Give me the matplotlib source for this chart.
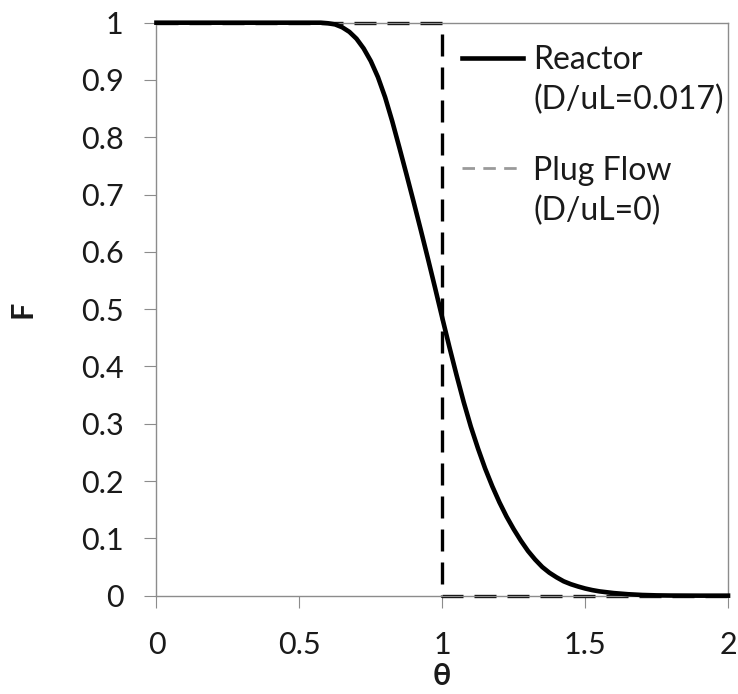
import matplotlib
matplotlib.use("Agg")
import matplotlib.pyplot as plt
from matplotlib.lines import Line2D

plt.rcParams['font.family'] = ['Lato', 'DejaVu Sans']

# reactor curve
theta = [0.0, 0.5, 0.55, 0.575, 0.6, 0.625, 0.65, 0.675, 0.7, 0.725, 0.75, 0.775,
         0.8, 0.825, 0.85, 0.875, 0.9, 0.925, 0.95, 0.975, 1.0, 1.025, 1.05, 1.075,
         1.1, 1.125, 1.15, 1.175, 1.2, 1.225, 1.25, 1.275, 1.3, 1.325, 1.35, 1.375,
         1.4, 1.425, 1.45, 1.475, 1.5, 1.525, 1.55, 1.6, 1.65, 1.7, 1.75, 1.8, 1.9, 2.0]
F_reactor = [1.0, 1.0, 1.0, 1.0, 0.999, 0.997, 0.992, 0.984, 0.972, 0.955, 0.933, 0.905,
             0.870, 0.828, 0.782, 0.735, 0.687, 0.638, 0.588, 0.537, 0.485, 0.434, 0.385, 0.338,
             0.295, 0.257, 0.222, 0.191, 0.163, 0.138, 0.116, 0.096, 0.078, 0.063, 0.050, 0.040,
             0.032, 0.025, 0.020, 0.016, 0.0125, 0.0097, 0.0075, 0.0045, 0.0025, 0.0012, 0.0005, 0.0002, 0.0, 0.0]

# ideal plug flow step
theta_plug = [0, 1, 1, 2]
F_plug = [1, 1, 0, 0]

x_ticks = [0, 0.5, 1, 1.5, 2]
x_labels = ['0', '0.5', '1', '1.5', '2']
y_ticks = [0, 0.1, 0.2, 0.3, 0.4, 0.5, 0.6, 0.7, 0.8, 0.9, 1.0]
y_labels = ['0', '0.1', '0.2', '0.3', '0.4', '0.5', '0.6', '0.7', '0.8', '0.9', '1']

grey = '#8c8c8c'
txt = '#1a1a1a'

fig = plt.figure(figsize=(7.38, 6.94), dpi=100)
ax = fig.add_axes([0.212, 0.1417, 0.7745, 0.8256])

plug, = ax.plot(theta_plug, F_plug, color='black', lw=2.4, clip_on=False, zorder=2)
plug.set_dashes((6.6, 3.3))
ax.plot(theta, F_reactor, color='black', lw=3.3, clip_on=False, zorder=3,
        solid_joinstyle='round')

ax.set_xlim(0, 2)
ax.set_ylim(0, 1)
ax.set_xticks(x_ticks)
ax.set_xticklabels(x_labels)
ax.set_yticks(y_ticks)
ax.set_yticklabels(y_labels)

for s in ax.spines.values():
    s.set_color(grey)
    s.set_linewidth(1.0)
ax.tick_params(axis='both', direction='out', length=8.6, width=0.8, color=grey,
               labelsize=22, labelcolor=txt)
ax.tick_params(axis='x', pad=17)
ax.tick_params(axis='y', pad=15)

ax.set_xlabel('θ', fontsize=22, fontweight='bold', color=txt)
ax.xaxis.set_label_coords(0.5, -0.14)
ax.xaxis.label.set_va('center')
ax.set_ylabel('F', fontsize=22, fontweight='bold', color=txt)
ax.yaxis.set_label_coords(-0.235, 0.5)
ax.yaxis.label.set_va('center')

# legend: two blocks, handle next to the first text line
blank = Line2D([], [], linestyle='none')
h_reac = Line2D([], [], color='black', lw=3.3)
h_plug = Line2D([], [], color='#9a9a9a', lw=2.0, dashes=(4.5, 3))
leg_kw = dict(loc='upper left', frameon=False, fontsize=23, borderpad=0,
              borderaxespad=0, handlelength=1.9, handletextpad=0.33,
              labelspacing=0.3, labelcolor=txt)
leg1 = ax.legend([h_reac, blank], ['Reactor', '(D/uL=0.017)'],
                 bbox_to_anchor=(0.5346, 0.961), **leg_kw)
ax.add_artist(leg1)
ax.legend([h_plug, blank], ['Plug Flow', '(D/uL=0)'],
          bbox_to_anchor=(0.5346, 0.768), **leg_kw)

fig.savefig('out.png', dpi=100)
